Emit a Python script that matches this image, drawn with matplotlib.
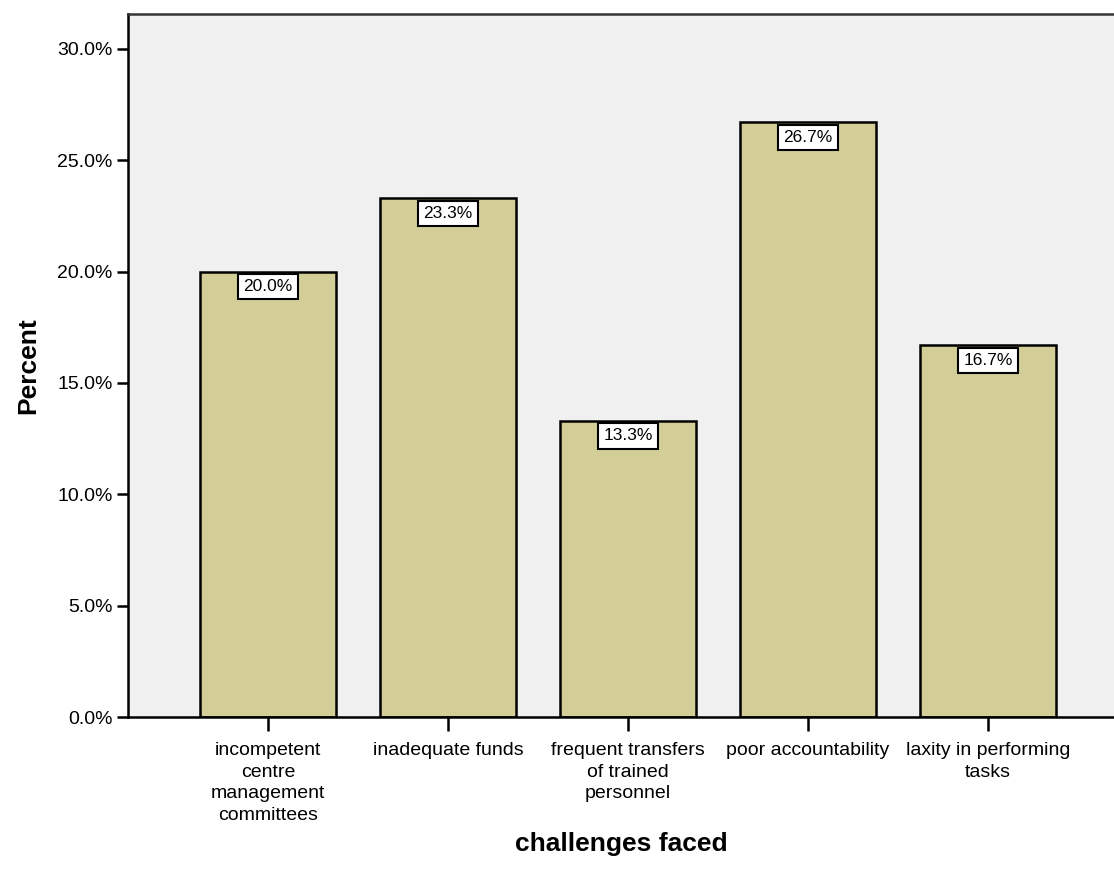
import matplotlib.pyplot as plt
from matplotlib.ticker import FuncFormatter

plt.rcParams['font.family'] = ['Liberation Sans', 'DejaVu Sans']

categories = ['incompetent\ncentre\nmanagement\ncommittees',
              'inadequate funds',
              'frequent transfers\nof trained\npersonnel',
              'poor accountability',
              'laxity in performing\ntasks']
percent = [20.0, 23.3, 13.3, 26.7, 16.7]
yticks = [0, 5, 10, 15, 20, 25, 30]

fig = plt.figure(figsize=(11.14, 8.83), dpi=100)
ax = fig.add_axes([128 / 1114, 1 - 717 / 883, 1 - 128 / 1114, (717 - 14) / 883])
ax.set_facecolor('#f0f0f0')

x = list(range(len(categories)))
ax.bar(x, percent, width=0.755, color='#d3ce97', edgecolor='black', linewidth=1.8, zorder=2)

for xi, v in zip(x, percent):
    ax.annotate('%.1f%%' % v, (xi, v), xytext=(0, -5.5), textcoords='offset points',
                ha='center', va='top', fontsize=12.5, zorder=3,
                bbox=dict(boxstyle='square,pad=0.3', fc='white', ec='black', lw=1.5))

ax.set_xlim(-0.778, 4.7)
ax.set_ylim(0, 31.57)
ax.set_xticks(x)
ax.set_xticklabels(categories, fontsize=14, linespacing=1.35)
ax.set_yticks(yticks)
ax.yaxis.set_major_formatter(FuncFormatter(lambda v, p: '%.1f%%' % v))
ax.tick_params(axis='y', labelsize=14, length=8, width=1.8, pad=3)
ax.tick_params(axis='x', length=10, width=1.8, pad=8)

ax.spines['right'].set_visible(False)
for s in ['left', 'bottom', 'top']:
    ax.spines[s].set_linewidth(1.8)
ax.spines['top'].set_color('#333333')

ax.set_xlabel('challenges faced', fontsize=19, fontweight='bold', labelpad=6)
ax.set_ylabel('Percent', fontsize=19, fontweight='bold', labelpad=12)

fig.savefig('out.png', dpi=100)
